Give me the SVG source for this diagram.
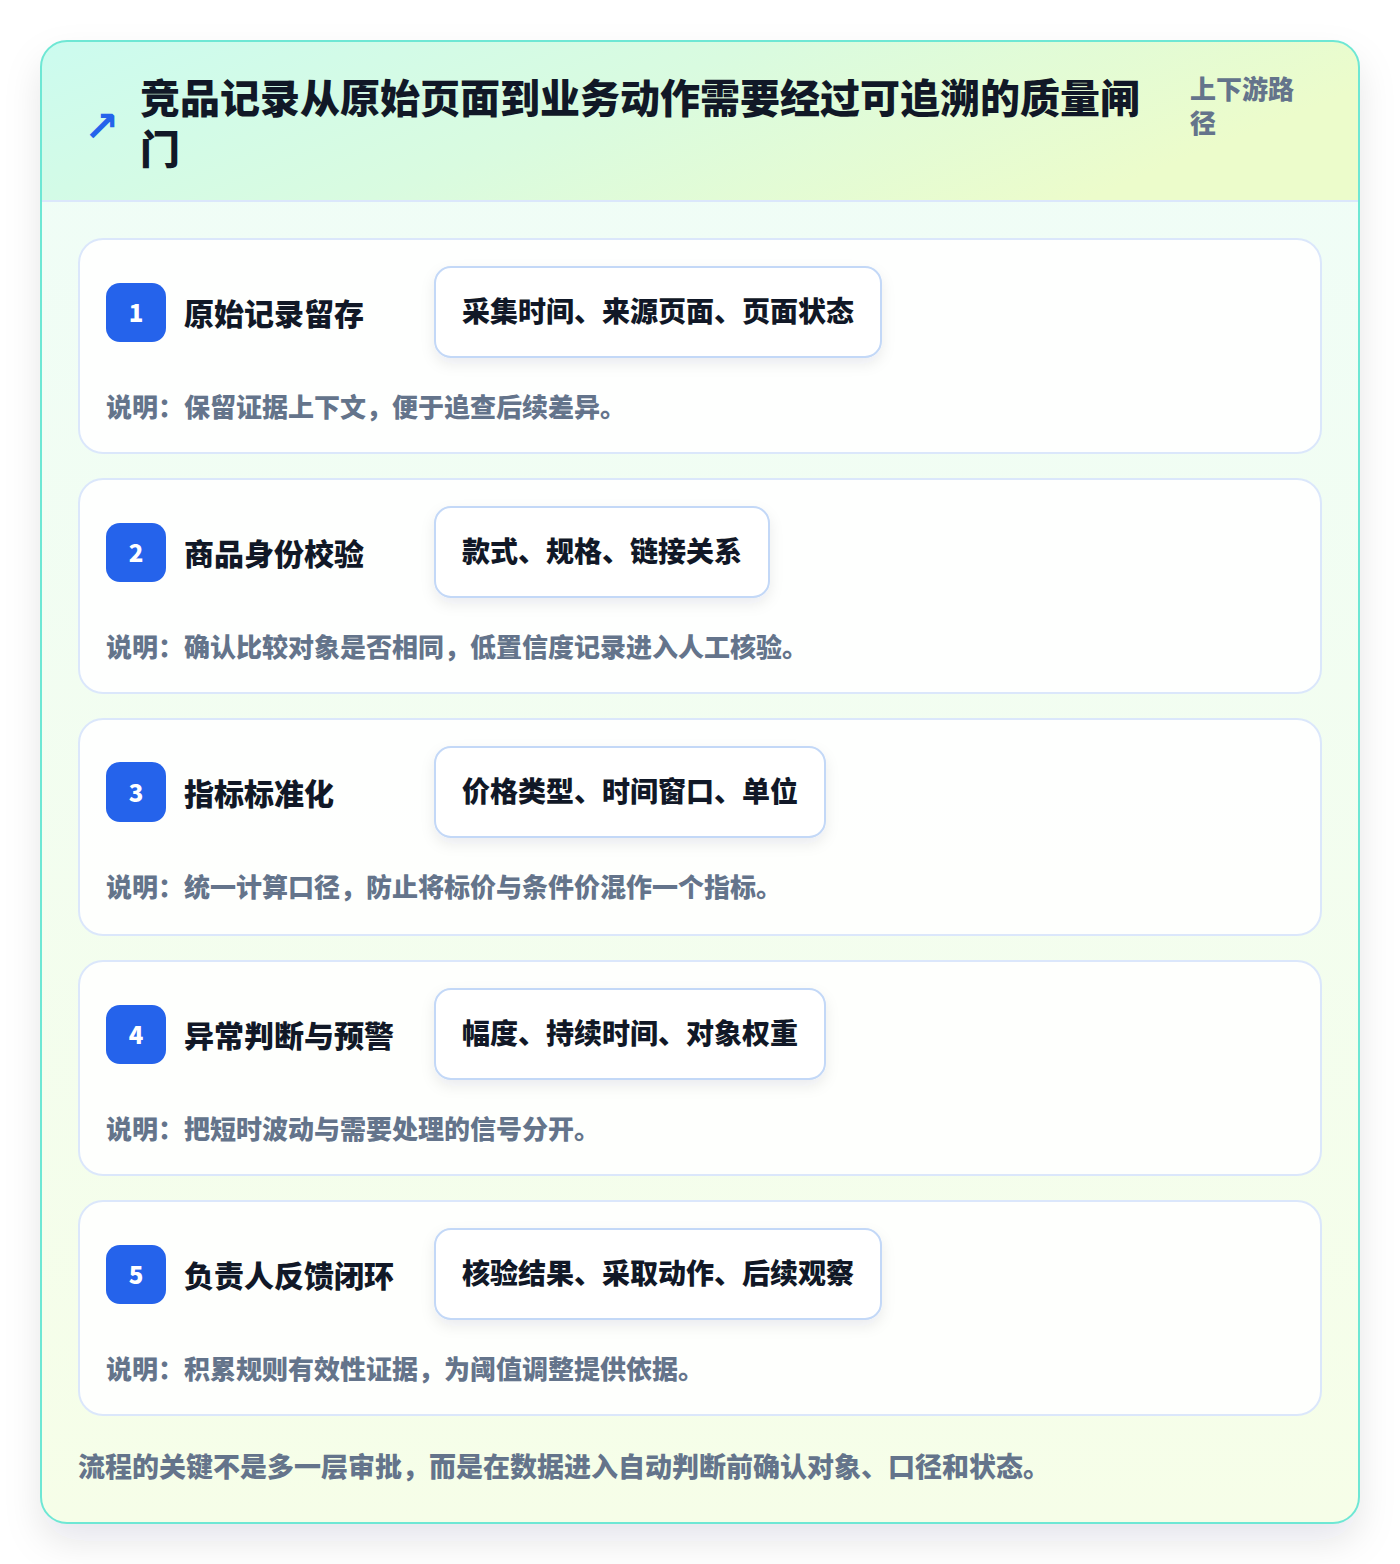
<svg xmlns="http://www.w3.org/2000/svg" width="1400" height="1564" viewBox="0 0 1400 1564">
<defs>
  <linearGradient id="hdr" x1="0" y1="0" x2="1" y2="0.3">
    <stop offset="0" stop-color="#ccfbef"/>
    <stop offset="0.5" stop-color="#d9fbe0"/>
    <stop offset="1" stop-color="#ecfccb"/>
  </linearGradient>
  <linearGradient id="body" x1="0" y1="0" x2="0" y2="1">
    <stop offset="0" stop-color="#effdf8"/>
    <stop offset="1" stop-color="#f6fee8"/>
  </linearGradient>
  <clipPath id="outerClip">
    <rect x="41" y="41" width="1318" height="1482" rx="26"/>
  </clipPath>
  <filter id="outerShadow" x="-10%" y="-10%" width="120%" height="120%">
    <feDropShadow dx="0" dy="18" stdDeviation="18" flood-color="#0f172a" flood-opacity="0.10"/>
  </filter>
  <filter id="chipShadow" x="-10%" y="-20%" width="120%" height="160%">
    <feDropShadow dx="0" dy="6" stdDeviation="7" flood-color="#1e293b" flood-opacity="0.08"/>
  </filter>
  <style>
    .cjk { font-family: "Noto Sans CJK SC", "Noto Sans", sans-serif; font-weight: 900; }
    .card { fill: #ffffff; fill-opacity: 0.88; stroke: #dbe7fb; stroke-width: 2; }
    .badge { fill: #2563eb; }
    .num { fill: #ffffff; font-size: 24px; text-anchor: middle; }
    .stitle { fill: #111827; font-size: 30px; }
    .chip { fill: #ffffff; stroke: #c3d8f7; stroke-width: 2; }
    .chiptext { fill: #111827; font-size: 28px; }
    .desc { fill: #64748b; font-size: 26px; }
  </style>
</defs>
<rect x="0" y="0" width="1400" height="1564" fill="#ffffff"/>

<g id="frame">
  <rect x="41" y="41" width="1318" height="1482" rx="26" fill="#f3fdf3" filter="url(#outerShadow)"/>
  <g clip-path="url(#outerClip)">
    <rect x="41" y="41" width="1318" height="1482" fill="url(#body)"/>
    <rect x="41" y="41" width="1318" height="160" fill="url(#hdr)"/>
    <line x1="41" y1="201" x2="1359" y2="201" stroke="#dbe7fb" stroke-width="2"/>
  </g>
  <rect x="41" y="41" width="1318" height="1482" rx="26" fill="none" stroke="#6ee7d4" stroke-width="2"/>
</g>

<g id="header">
  <text x="84" y="141" font-size="42" fill="#2563eb" style="font-family:'DejaVu Sans', sans-serif; font-weight:700;">↗</text>
  <text class="cjk" font-size="40" fill="#111827">
    <tspan x="140" y="113">竞品记录从原始页面到业务动作需要经过可追溯的质量闸</tspan>
    <tspan x="140" y="164">门</tspan>
  </text>
  <text class="cjk" font-size="26" fill="#64748b">
    <tspan x="1190" y="99">上下游路</tspan>
    <tspan x="1190" y="133">径</tspan>
  </text>
</g>

<g id="step1">
  <rect class="card" x="79" y="239" width="1242" height="214" rx="24"/>
  <rect class="badge" x="106" y="283" width="60" height="59" rx="14"/>
  <text class="cjk num" x="136" y="322">1</text>
  <text class="cjk stitle" x="184" y="325">原始记录留存</text>
  <rect class="chip" x="435" y="267" width="446" height="90" rx="16" filter="url(#chipShadow)"/>
  <text class="cjk chiptext" x="462" y="322">采集时间、来源页面、页面状态</text>
  <text class="cjk desc" x="106" y="417">说明：保留证据上下文，便于追查后续差异。</text>
</g>

<g id="step2">
  <rect class="card" x="79" y="479" width="1242" height="214" rx="24"/>
  <rect class="badge" x="106" y="523" width="60" height="59" rx="14"/>
  <text class="cjk num" x="136" y="562">2</text>
  <text class="cjk stitle" x="184" y="565">商品身份校验</text>
  <rect class="chip" x="435" y="507" width="334" height="90" rx="16" filter="url(#chipShadow)"/>
  <text class="cjk chiptext" x="462" y="562">款式、规格、链接关系</text>
  <text class="cjk desc" x="106" y="657">说明：确认比较对象是否相同，低置信度记录进入人工核验。</text>
</g>

<g id="step3">
  <rect class="card" x="79" y="719" width="1242" height="216" rx="24"/>
  <rect class="badge" x="106" y="762" width="60" height="60" rx="14"/>
  <text class="cjk num" x="136" y="802">3</text>
  <text class="cjk stitle" x="184" y="805">指标标准化</text>
  <rect class="chip" x="435" y="747" width="390" height="90" rx="16" filter="url(#chipShadow)"/>
  <text class="cjk chiptext" x="462" y="802">价格类型、时间窗口、单位</text>
  <text class="cjk desc" x="106" y="897">说明：统一计算口径，防止将标价与条件价混作一个指标。</text>
</g>

<g id="step4">
  <rect class="card" x="79" y="961" width="1242" height="214" rx="24"/>
  <rect class="badge" x="106" y="1005" width="60" height="59" rx="14"/>
  <text class="cjk num" x="136" y="1044">4</text>
  <text class="cjk stitle" x="184" y="1047">异常判断与预警</text>
  <rect class="chip" x="435" y="989" width="390" height="90" rx="16" filter="url(#chipShadow)"/>
  <text class="cjk chiptext" x="462" y="1044">幅度、持续时间、对象权重</text>
  <text class="cjk desc" x="106" y="1139">说明：把短时波动与需要处理的信号分开。</text>
</g>

<g id="step5">
  <rect class="card" x="79" y="1201" width="1242" height="214" rx="24"/>
  <rect class="badge" x="106" y="1245" width="60" height="59" rx="14"/>
  <text class="cjk num" x="136" y="1284">5</text>
  <text class="cjk stitle" x="184" y="1287">负责人反馈闭环</text>
  <rect class="chip" x="435" y="1229" width="446" height="90" rx="16" filter="url(#chipShadow)"/>
  <text class="cjk chiptext" x="462" y="1284">核验结果、采取动作、后续观察</text>
  <text class="cjk desc" x="106" y="1379">说明：积累规则有效性证据，为阈值调整提供依据。</text>
</g>

<g id="connectors"></g>

<g id="footer">
  <text class="cjk" x="78" y="1477" font-size="27" fill="#64748b">流程的关键不是多一层审批，而是在数据进入自动判断前确认对象、口径和状态。</text>
</g>
</svg>
